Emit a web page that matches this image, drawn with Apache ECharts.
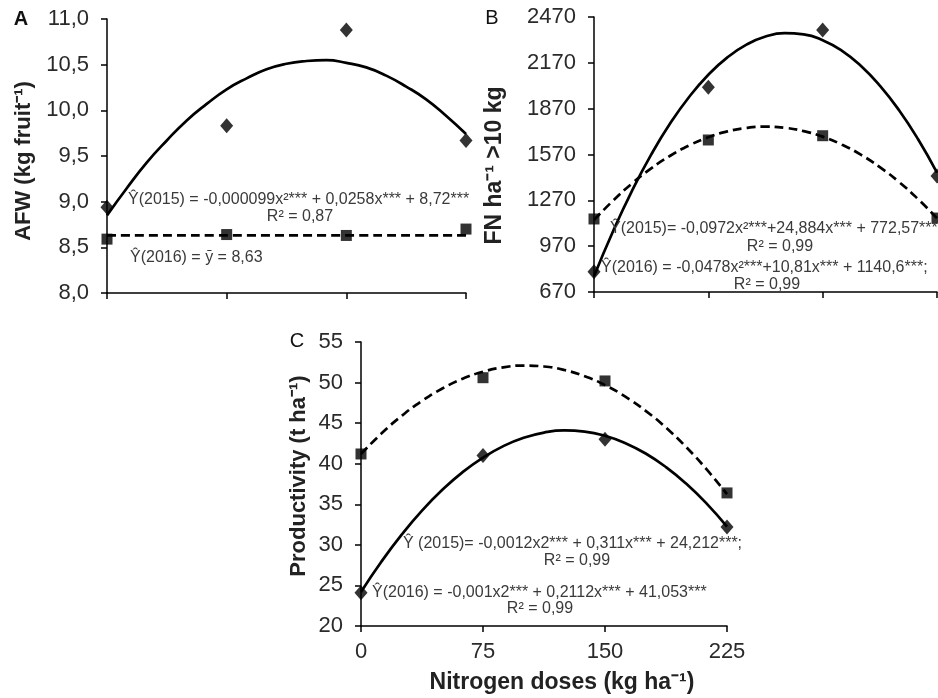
<!DOCTYPE html>
<html>
<head>
<meta charset="utf-8">
<script src="https://cdn.jsdelivr.net/npm/echarts@6/dist/echarts.min.js"></script>
<style>
html,body{margin:0;padding:0;background:#fff;}
#chart{width:938px;height:698px;}
</style>
</head>
<body>
<div id="chart"></div>
<script>
// ---- data ----
const doses = [0, 75, 150, 225];
const xTickLabels = ['0', '75', '150', '225'];
const fitX = [0, 12.5, 25, 37.5, 50, 62.5, 75, 87.5, 100, 112.5, 125, 137.5, 150, 162.5, 175, 187.5, 200, 212.5, 225];

// Panel A: average fruit weight (kg fruit-1)
const afw2015 = [8.94, 9.83, 10.88, 9.67];
const afw2016 = [8.59, 8.64, 8.63, 8.70];
const afwFit2015 = [8.85, 9.15, 9.43, 9.67, 9.89, 10.07, 10.23, 10.35, 10.45, 10.51, 10.54, 10.55, 10.52, 10.47, 10.38, 10.26, 10.12, 9.94, 9.74];
const afwFit2016X = [0, 225];
const afwFit2016 = [8.63, 8.63];

// Panel B: fruit number ha-1 > 10 kg
const fn2015 = [803, 2010, 2385, 1430];
const fn2016 = [1148, 1665, 1693, 1154];
const fnFit2015 = [773, 1068, 1334, 1569, 1774, 1948, 2092, 2206, 2289, 2342, 2364, 2356, 2318, 2250, 2151, 2021, 1861, 1671, 1451];
const fnFit2016 = [1141, 1268, 1381, 1479, 1562, 1630, 1683, 1721, 1744, 1752, 1745, 1723, 1687, 1635, 1569, 1487, 1391, 1279, 1153];

// Panel C: productivity (t ha-1)
const prod2015 = [24.1, 41.0, 43.0, 32.2];
const prod2016 = [41.2, 50.6, 50.2, 36.4];
const prodFit2015 = [24.2, 27.92, 31.26, 34.22, 36.78, 38.97, 40.76, 42.17, 43.20, 43.84, 44.10, 43.96, 43.45, 42.54, 41.26, 39.58, 37.52, 35.08, 32.25];
const prodFit2016 = [41.2, 43.71, 45.89, 47.74, 49.27, 50.47, 51.34, 51.88, 52.10, 51.98, 51.55, 50.78, 49.69, 48.26, 46.52, 44.44, 42.03, 39.30, 36.25];

// ---- helpers ----
const FONT = '"Liberation Sans", Arial, sans-serif';
const pairs = (xs, ys) => xs.map((x, i) => [x, ys[i]]);

function xAxisOf(gi, showLabels) {
  return {
    type: 'value', gridIndex: gi, min: 0, max: 225, interval: 75,
    axisLine: {show: true, onZero: false, lineStyle: {color: '#000', width: 1.5}},
    axisTick: {show: true, length: 6, lineStyle: {color: '#000', width: 1.5}},
    splitLine: {show: false},
    axisLabel: showLabels ? {
      show: true, margin: 15, color: '#2a2a2a', fontSize: 22, fontFamily: FONT,
      formatter: v => xTickLabels[doses.indexOf(v)]
    } : {show: false},
    name: showLabels ? 'Nitrogen doses (kg ha⁻¹)' : '',
    nameLocation: 'middle', nameGap: 45,
    nameTextStyle: {color: '#222', fontSize: 23, fontWeight: 'bold', fontFamily: FONT, padding: [0, 0, 0, 36]}
  };
}
function yAxisOf(gi, min, max, interval, fmt, name, nameGap, nameSize, namePad) {
  return {
    type: 'value', gridIndex: gi, min: min, max: max, interval: interval,
    axisLine: {show: true, lineStyle: {color: '#000', width: 1.5}},
    axisTick: {show: true, length: 6, lineStyle: {color: '#000', width: 1.5}},
    splitLine: {show: false},
    axisLabel: {margin: 18, color: '#2a2a2a', fontSize: 22, fontFamily: FONT, formatter: fmt},
    name: name, nameLocation: 'middle', nameGap: nameGap, nameRotate: 90,
    nameTextStyle: {color: '#222', fontSize: nameSize, fontWeight: 'bold', fontFamily: FONT, padding: namePad}
  };
}
function pts(gi, xs, ys, symbol, size) {
  return {
    type: 'scatter', xAxisIndex: gi, yAxisIndex: gi, data: pairs(xs, ys),
    symbol: symbol, symbolSize: size, itemStyle: {color: '#000'}, clip: false, z: 5, silent: true
  };
}
function fit(gi, xs, ys, dashed) {
  return {
    type: 'line', xAxisIndex: gi, yAxisIndex: gi, data: pairs(xs, ys),
    smooth: true, showSymbol: false, symbol: 'none', clip: false, silent: true,
    lineStyle: {color: '#000', width: 2.7, type: dashed ? [9, 5] : 'solid'}
  };
}
function txt(x, y, text, align) {
  return {
    type: 'text', x: x, y: y, silent: true, z: 100,
    style: {text: text, fill: '#3a3a3a', fontSize: 16, fontFamily: FONT,
            align: align || 'left', verticalAlign: 'middle'}
  };
}
function letter(x, y, t, weight) {
  return {
    type: 'text', x: x, y: y, silent: true, z: 100,
    style: {text: t, fill: '#111', fontSize: 20, fontWeight: weight || 'normal', fontFamily: FONT,
            align: 'center', verticalAlign: 'middle'}
  };
}

const comma1 = v => v.toFixed(1).replace('.', ',');
const plain = v => String(v);

const option = {
  animation: false,
  backgroundColor: '#fff',
  grid: [
    {left: 107, top: 19, width: 359, height: 274},
    {left: 594, top: 17, width: 343, height: 275},
    {left: 361, top: 342, width: 366, height: 284}
  ],
  xAxis: [xAxisOf(0, false), xAxisOf(1, false), xAxisOf(2, true)],
  yAxis: [
    yAxisOf(0, 8, 11, 0.5, comma1, 'AFW (kg fruit⁻¹)', 72, 22, [0, 10, 0, 0]),
    yAxisOf(1, 670, 2470, 300, plain, 'FN ha⁻¹ >10 kg', 88, 23, [0, 22, 0, 0]),
    yAxisOf(2, 20, 55, 5, plain, 'Productivity (t ha⁻¹)', 51, 22, [0, 0, 0, 16])
  ],
  series: [
    fit(0, fitX, afwFit2015, false),
    fit(0, afwFit2016X, afwFit2016, true),
    pts(0, doses, afw2015, 'diamond', [13, 15]),
    pts(0, doses, afw2016, 'rect', 11),

    fit(1, fitX, fnFit2015, false),
    fit(1, fitX, fnFit2016, true),
    pts(1, doses, fn2015, 'diamond', [13, 15]),
    pts(1, doses, fn2016, 'rect', 11),

    fit(2, fitX, prodFit2015, false),
    fit(2, fitX, prodFit2016, true),
    pts(2, doses, prod2015, 'diamond', [13, 15]),
    pts(2, doses, prod2016, 'rect', 11)
  ],
  graphic: [
    letter(21, 19, 'A', 'bold'),
    letter(492, 18, 'B'),
    letter(297, 341, 'C'),
    txt(128, 200, 'Ŷ(2015) = -0,000099x²*** + 0,0258x*** + 8,72***'),
    txt(300, 217, 'R² = 0,87', 'center'),
    txt(130, 258, 'Ŷ(2016) = ȳ = 8,63'),
    txt(610, 229, 'Ŷ(2015)= -0,0972x²***+24,884x*** + 772,57***'),
    txt(780, 247, 'R² = 0,99', 'center'),
    txt(601, 268, 'Ŷ(2016) = -0,0478x²***+10,81x*** + 1140,6***;'),
    txt(767, 285, 'R² = 0,99', 'center'),
    txt(403, 544, 'Ŷ (2015)= -0,0012x2*** + 0,311x*** + 24,212***;'),
    txt(577, 561, 'R² = 0,99', 'center'),
    txt(372, 593, 'Ŷ(2016) = -0,001x2*** + 0,2112x*** + 41,053***'),
    txt(540, 609, 'R² = 0,99', 'center')
  ]
};

const chart = echarts.init(document.getElementById('chart'), null, {renderer: 'canvas'});
chart.setOption(option);
</script>
</body>
</html>
